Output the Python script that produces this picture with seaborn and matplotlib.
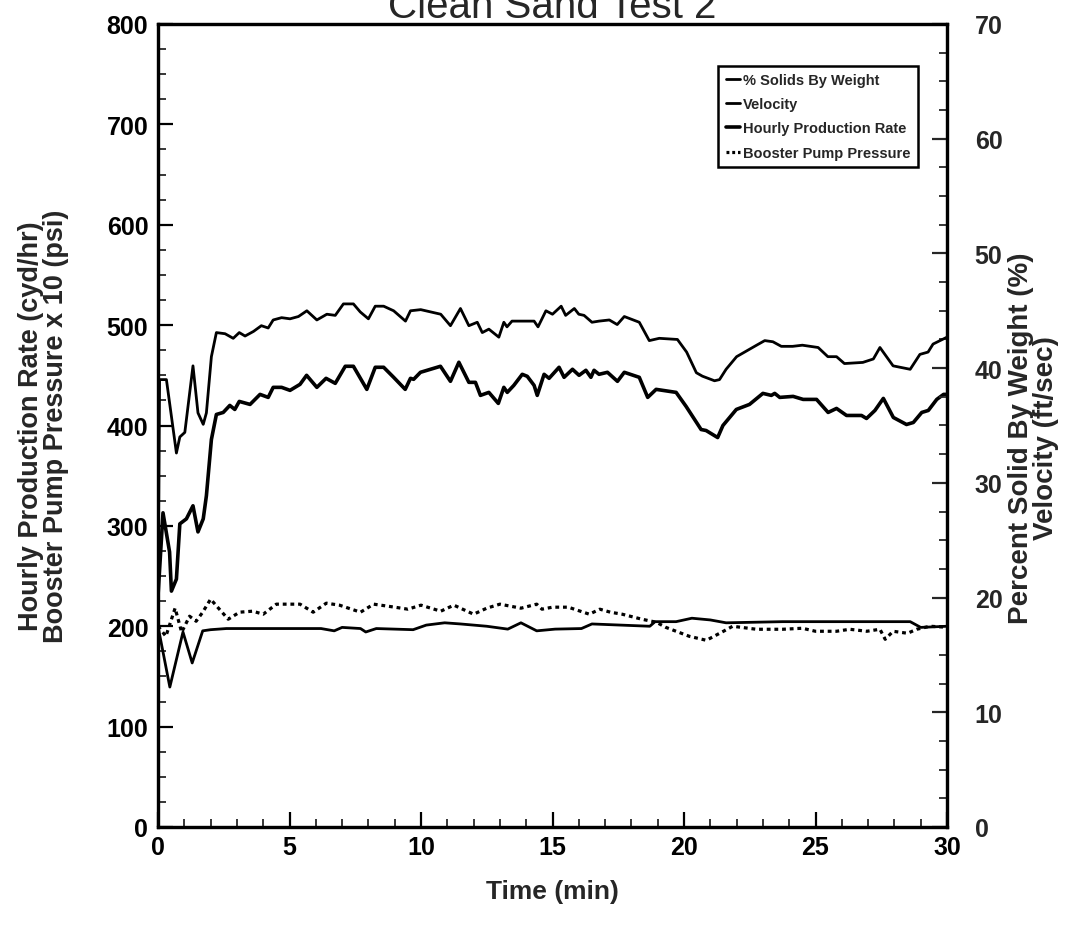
import matplotlib
matplotlib.use("Agg")
import matplotlib.pyplot as plt
import seaborn as sns
import pandas as pd
from matplotlib.ticker import MultipleLocator
from matplotlib.lines import Line2D

# ---------------- data ----------------
prod_t = [0.0, 0.19, 0.44, 0.51, 0.70, 0.83, 1.08, 1.33, 1.52, 1.72, 1.84, 2.03, 2.22, 2.48, 2.73,
          2.92, 3.09, 3.5, 3.88, 4.19, 4.38, 4.70, 5.02, 5.40, 5.65, 6.04, 6.39, 6.74, 7.12, 7.43,
          7.94, 8.26, 8.58, 8.96, 9.4, 9.6, 9.72, 9.98, 10.36, 10.74, 11.12, 11.44, 11.82, 12.07,
          12.26, 12.58, 12.94, 13.15, 13.28, 13.53, 13.85, 14.04, 14.30, 14.42, 14.68, 14.87, 15.25,
          15.44, 15.76, 16.01, 16.27, 16.46, 16.58, 16.77, 17.09, 17.47, 17.73, 18.3, 18.62, 18.94,
          19.7, 20.08, 20.65, 20.84, 21.28, 21.48, 21.99, 22.49, 23.0, 23.32, 23.45, 23.64, 24.15,
          24.53, 25.04, 25.48, 25.8, 26.18, 26.75, 26.94, 27.26, 27.58, 27.96, 28.46, 28.72, 29.04,
          29.29, 29.61, 29.87, 30.0]
prod_rate = [230, 313, 274, 235, 247, 302, 307, 320, 294, 307, 330, 386, 411, 413, 420,
             416, 424, 421, 431, 428, 438, 438, 435, 441, 450, 438, 447, 442, 459, 459,
             436, 458, 458, 448, 436, 447, 446, 453, 456, 459, 444, 463, 443, 443,
             430, 433, 422, 438, 433, 440, 451, 449, 440, 430, 451, 447, 458,
             448, 456, 450, 455, 448, 455, 451, 453, 444, 453, 448, 428, 436,
             433, 419, 396, 395, 388, 400, 416, 421, 432, 430, 432, 428, 429,
             426, 426, 413, 417, 410, 410, 407, 415, 427, 408, 401, 403, 413,
             415, 426, 431, 431]

solids_t = [0.0, 0.06, 0.32, 0.70, 0.83, 1.02, 1.33, 1.52, 1.72, 1.84, 2.03, 2.22, 2.55, 2.86,
            3.09, 3.31, 3.63, 3.93, 4.19, 4.38, 4.70, 5.02, 5.34, 5.66, 6.04, 6.42, 6.74, 7.05,
            7.43, 7.69, 8.0, 8.26, 8.58, 8.96, 9.41, 9.6, 9.99, 10.37, 10.75, 11.12, 11.5, 11.82,
            12.14, 12.33, 12.58, 12.96, 13.15, 13.27, 13.46, 14.30, 14.45, 14.75, 15.0, 15.33,
            15.5, 15.83, 16.0, 16.2, 16.5, 16.77, 17.16, 17.46, 17.73, 18.3, 18.68, 19.06, 19.75,
            20.1, 20.47, 20.7, 21.16, 21.35, 21.6, 22.0, 22.38, 22.76, 23.07, 23.38, 23.7, 24.13,
            24.5, 25.1, 25.47, 25.8, 26.1, 26.8, 27.2, 27.45, 27.95, 28.6, 28.97, 29.28, 29.47, 30.0]
solids_pct = [20.0, 39.0, 39.0, 32.6, 34.0, 34.4, 40.2, 36.1, 35.1, 36.1, 41.0, 43.1, 43.0, 42.6,
              43.1, 42.8, 43.2, 43.7, 43.5, 44.2, 44.4, 44.3, 44.5, 45.0, 44.2, 44.7, 44.6, 45.6,
              45.6, 44.9, 44.3, 45.4, 45.4, 45.0, 44.1, 45.0, 45.1, 44.9, 44.7, 43.7, 45.2, 43.7,
              44.0, 43.1, 43.4, 42.7, 44.0, 43.6, 44.1, 44.1, 43.6, 45.0, 44.7, 45.4,
              44.6, 45.2, 44.7, 44.6, 44.0, 44.1, 44.2, 43.8, 44.5, 44.0, 42.4, 42.6, 42.5,
              41.4, 39.6, 39.3, 38.9, 39.0, 39.9, 41.0, 41.5, 42.0, 42.4, 42.3, 41.9, 41.9,
              42.0, 41.8, 41.0, 41.0, 40.4, 40.5, 40.8, 41.8, 40.2, 39.9, 41.2, 41.4, 42.1, 42.7]

vel_t = [0.0, 0.45, 0.95, 1.3, 1.7, 2.0, 2.6, 4.0, 5.0, 6.2, 6.7, 7.0, 7.7, 7.9, 8.3, 9.7, 10.2,
         10.9, 11.5, 12.5, 13.3, 13.8, 14.4, 15.1, 16.1, 16.5, 18.7, 18.9, 19.7, 20.3, 21.0, 21.6,
         23.75, 25.7, 27.6, 28.6, 29.0, 30.0]
vel_fps = [17.5, 12.2, 17.0, 14.3, 17.1, 17.2, 17.3, 17.3, 17.3, 17.3, 17.1, 17.4, 17.3, 17.0, 17.3,
           17.2, 17.6, 17.8, 17.7, 17.5, 17.25, 17.8, 17.1, 17.25, 17.3, 17.7, 17.5, 17.9, 17.9,
           18.2, 18.05, 17.8, 17.9, 17.9, 17.9, 17.9, 17.4, 17.5]

boost_t = [0.0, 0.3, 0.65, 0.9, 1.2, 1.45, 1.7, 2.0, 2.3, 2.67, 3.1, 3.6, 4.0, 4.5, 5.4, 5.9, 6.4,
           6.9, 7.7, 8.2, 9.0, 9.5, 10.0, 10.75, 11.25, 12.0, 12.5, 13.0, 13.8, 14.4, 14.6, 15.0,
           15.6, 16.4, 16.8, 17.2, 17.65, 18.4, 18.95, 19.3, 20.2, 20.85, 21.5, 21.85, 22.75,
           23.75, 24.5, 25.0, 25.8, 26.3, 26.95, 27.45, 27.65, 27.95, 28.5, 28.85, 29.35, 30.0]
boost_x10 = [200, 190, 218, 194, 210, 205, 214, 227, 218, 207, 214, 215, 212, 222, 222, 214, 223,
             221, 214, 222, 219, 217, 221, 215, 221, 212, 218, 222, 218, 222, 217, 219,
             219, 212, 217, 214, 212, 207, 204, 199, 190, 186, 195, 200, 197,
             197, 198, 195, 195, 197, 195, 197, 187, 195, 193, 197, 200, 199]

x_ticks = [0, 5, 10, 15, 20, 25, 30]
left_ticks = [0, 100, 200, 300, 400, 500, 600, 700, 800]
right_ticks = [0, 10, 20, 30, 40, 50, 60, 70]
legend_labels = ["% Solids By Weight", "Velocity", "Hourly Production Rate", "Booster Pump Pressure"]

# ---------------- style ----------------
sns.set_style("ticks")
plt.rcParams["font.family"] = ["Liberation Sans", "DejaVu Sans"]
plt.rcParams["font.weight"] = "bold"

W, H = 1077, 929
fig = plt.figure(figsize=(W / 100, H / 100), dpi=100)
ax = fig.add_axes([158 / W, 1 - 828 / H, (947 - 158) / W, (828 - 25) / H])
ax2 = ax.twinx()

df_prod = pd.DataFrame({"t": prod_t, "v": prod_rate})
df_boost = pd.DataFrame({"t": boost_t, "v": boost_x10})
df_sol = pd.DataFrame({"t": solids_t, "v": solids_pct})
df_vel = pd.DataFrame({"t": vel_t, "v": vel_fps})

LW_THIN, LW_THICK, LW_DOT = 2.0, 2.6, 2.3
DOT = (0, (1.2, 1.2))
sns.lineplot(data=df_prod, x="t", y="v", ax=ax, color="black", lw=LW_THICK,
             estimator=None, sort=False, legend=False)
sns.lineplot(data=df_boost, x="t", y="v", ax=ax, color="black", lw=LW_DOT,
             linestyle=DOT, estimator=None, sort=False, legend=False)
sns.lineplot(data=df_sol, x="t", y="v", ax=ax2, color="black", lw=LW_THIN,
             estimator=None, sort=False, legend=False)
sns.lineplot(data=df_vel, x="t", y="v", ax=ax2, color="black", lw=LW_THIN,
             estimator=None, sort=False, legend=False)

ax.set_xlim(0, 30)
ax.set_ylim(0, 800)
ax2.set_ylim(0, 70)

ax.set_xticks(x_ticks)
ax.set_xticklabels([str(v) for v in x_ticks])
ax.set_yticks(left_ticks)
ax.set_yticklabels([str(v) for v in left_ticks])
ax2.set_yticks(right_ticks)
ax2.set_yticklabels([str(v) for v in right_ticks])
ax.xaxis.set_minor_locator(MultipleLocator(1))
ax.yaxis.set_minor_locator(MultipleLocator(25))
ax2.yaxis.set_minor_locator(MultipleLocator(2.5))

for a in (ax, ax2):
    for s in a.spines.values():
        s.set_linewidth(2.3)
        s.set_color("black")
ax.tick_params(axis="both", which="major", direction="in", length=11, width=1.6,
               labelsize=18, colors="black")
ax.tick_params(axis="both", which="minor", direction="in", length=6, width=1.3)
ax.tick_params(axis="x", pad=6)
ax.tick_params(axis="y", pad=7, right=False)
ax2.tick_params(axis="y", which="major", direction="in", length=11, width=1.6,
                labelsize=18, pad=20)
ax2.tick_params(axis="y", which="minor", direction="in", length=6, width=1.3)
for lab in ax.get_xticklabels() + ax.get_yticklabels() + ax2.get_yticklabels():
    lab.set_fontweight("bold")

ax.set_xlabel("Time (min)", fontsize=19, fontweight="bold", labelpad=14)
ax.set_ylabel("Hourly Production Rate (cyd/hr)\nBooster Pump Pressure x 10 (psi)",
              fontsize=19.5, fontweight="bold", linespacing=0.95)
ax.yaxis.set_label_coords(-0.113, 0.5)
ax2.set_ylabel("Percent Solid By Weight (%)\nVelocity (ft/sec)",
               fontsize=20, fontweight="bold", linespacing=0.95)
ax2.yaxis.set_label_coords(1.077, 0.485)

fig.text(0.513, 1 - 18 / H, "Clean Sand Test 2", ha="center", va="baseline",
         fontsize=29, fontweight="normal")

handles = [
    Line2D([], [], color="black", lw=LW_THIN),
    Line2D([], [], color="black", lw=LW_THIN),
    Line2D([], [], color="black", lw=LW_THICK),
    Line2D([], [], color="black", lw=LW_DOT, linestyle=(0, (0.9, 0.9))),
]
leg = ax2.legend(handles, legend_labels, loc="upper right", bbox_to_anchor=(0.963, 0.948),
                 prop={"weight": "bold", "size": 10.5},
                 frameon=True, fancybox=False, handlelength=1.0,
                 handletextpad=0.2, borderpad=0.5, labelspacing=0.7, borderaxespad=0)
leg.get_frame().set_edgecolor("black")
leg.get_frame().set_linewidth(1.8)
leg.get_frame().set_alpha(1)

fig.savefig("out.png", dpi=100)
